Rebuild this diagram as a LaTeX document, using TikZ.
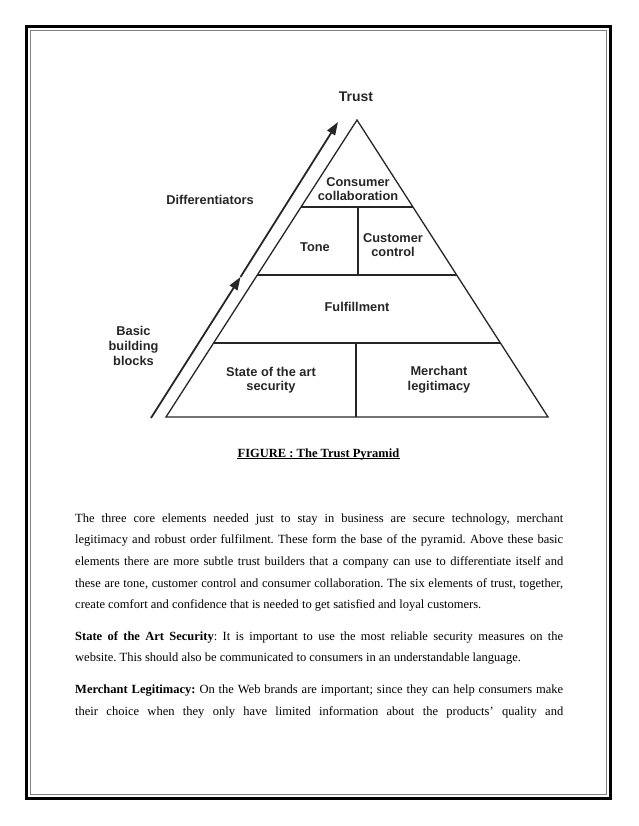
\documentclass[tikz,border=0pt]{standalone}
\usepackage{fontspec}
\setmainfont{Liberation Serif}
\newfontfamily\labelfont{Liberation Sans}
\usetikzlibrary{arrows.meta}
\hyphenpenalty=10000
\exhyphenpenalty=10000
\tolerance=9999
\frenchspacing

\tikzset{
	layer/.style = {font=\labelfont\bfseries\fontsize{12.8}{14.6}\selectfont, text=black!85, align=center, inner sep=0pt},
	edge/.style = {line width=1.3pt, black!85},
	rise/.style = {line width=1.8pt, black!85, -{Triangle[length=13pt, width=9pt]}},
	body/.style = {text width=488pt, align=justify, inner sep=0pt, anchor=north west, font=\fontsize{12.51}{21.6}\selectfont}
}

\begin{document}
\begin{tikzpicture}[x=1pt, y=-1pt]
	\useasboundingbox (0,0) rectangle (638,826);
	\draw [line width=3.2pt] (26.6,26.6) rectangle (610.4,798.4);
	\draw [gray, line width=0.9pt] (30.2,30.2) rectangle (606.8,794.8);
	% the pyramid
	\coordinate (apex) at (357,120);
	\coordinate (bl) at (166,417);
	\coordinate (br) at (548,417);
	\draw [edge, line join=miter] (apex) -- (bl) -- (br) -- cycle;
	\draw [edge] (301,207) -- (413,207) (257,275) -- (457,275) (214,343) -- (500,343);
	\draw [edge] (358,207) -- (358,275) (356,343) -- (356,417);
	\node [layer] (collab) at (358,189) {Consumer\\collaboration};
	\node [layer] (tone) at (315,247) {Tone};
	\node [layer] (control) at (393,245) {Customer\\control};
	\node [layer] (fulfil) at (357,307) {Fulfillment};
	\node [layer] (security) at (271,380) {State of the art\\security};
	\node [layer] (legit) at (439,380) {Merchant\\legitimacy};
	% the arrow up the left side
	\coordinate (abot) at (151,418);
	\coordinate (amid) at (240.5,277);
	\coordinate (atop) at (338,122);
	\draw [rise] (abot) -- (amid);
	\draw [rise] (amid) -- (atop);
	\node [layer, font=\labelfont\bfseries\fontsize{14}{16}\selectfont] (trust) at (356,97) {Trust};
	\node [layer] (diff) at (210,200) {Differentiators};
	\node [layer] (basic) at (133.5,346) {Basic\\building\\blocks};
	% caption and text
	\node [anchor=base, inner sep=0pt, font=\bfseries\fontsize{12.51}{15}\selectfont] (caption) at (318.5,457) {FIGURE : The Trust Pyramid};
	\draw [line width=0.7pt] ([yshift=-1.8pt]caption.base west) -- ([yshift=-1.8pt]caption.base east);
	\node [body] (para) at (75,513.5) {The three core elements needed just to stay in business are secure technology, merchant\linebreak
		legitimacy and robust order fulfilment. These form the base of the pyramid. Above these basic\linebreak
		elements there are more subtle trust builders that a company can use to differentiate itself and\linebreak
		these are tone, customer control and consumer collaboration. The six elements of trust, together,\linebreak
		create comfort and confidence that is needed to get satisfied and loyal customers.\par\vspace{10pt}
		\textbf{State of the Art Security}: It is important to use the most reliable security measures on the\linebreak
		website. This should also be communicated to consumers in an understandable language.\par\vspace{10pt}
		\textbf{Merchant Legitimacy:} On the Web brands are important; since they can help consumers make\linebreak
		their choice when they only have limited information about the products' quality and\parfillskip=0pt\par};
\end{tikzpicture}
\end{document}
